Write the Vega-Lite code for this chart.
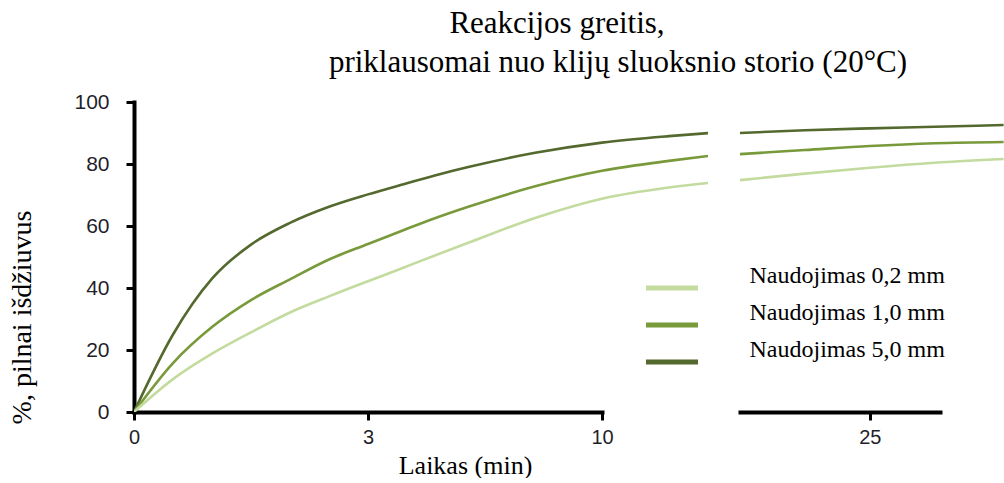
{
  "$schema": "https://vega.github.io/schema/vega-lite/v6.json",
  "padding": {"left": 8, "top": 8, "right": 0, "bottom": 0},
  "background": "#ffffff",
  "bounds": "flush",
  "data": {"values": [
    {"p": "a", "s": "Naudojimas 5,0 mm", "t": 0, "v": 0},
    {"p": "a", "s": "Naudojimas 5,0 mm", "t": 0.5, "v": 25},
    {"p": "a", "s": "Naudojimas 5,0 mm", "t": 1, "v": 43},
    {"p": "a", "s": "Naudojimas 5,0 mm", "t": 1.5, "v": 54},
    {"p": "a", "s": "Naudojimas 5,0 mm", "t": 2, "v": 61},
    {"p": "a", "s": "Naudojimas 5,0 mm", "t": 2.5, "v": 66.2},
    {"p": "a", "s": "Naudojimas 5,0 mm", "t": 3, "v": 70.2},
    {"p": "a", "s": "Naudojimas 5,0 mm", "t": 4, "v": 73.3},
    {"p": "a", "s": "Naudojimas 5,0 mm", "t": 5, "v": 76.3},
    {"p": "a", "s": "Naudojimas 5,0 mm", "t": 6, "v": 79},
    {"p": "a", "s": "Naudojimas 5,0 mm", "t": 8, "v": 83.6},
    {"p": "a", "s": "Naudojimas 5,0 mm", "t": 10, "v": 86.9},
    {"p": "a", "s": "Naudojimas 5,0 mm", "t": 12, "v": 89},
    {"p": "a", "s": "Naudojimas 5,0 mm", "t": 13.2, "v": 90},
    {"p": "a", "s": "Naudojimas 1,0 mm", "t": 0, "v": 0},
    {"p": "a", "s": "Naudojimas 1,0 mm", "t": 0.5, "v": 15.8},
    {"p": "a", "s": "Naudojimas 1,0 mm", "t": 1, "v": 27.4},
    {"p": "a", "s": "Naudojimas 1,0 mm", "t": 1.5, "v": 36.1},
    {"p": "a", "s": "Naudojimas 1,0 mm", "t": 2, "v": 42.8},
    {"p": "a", "s": "Naudojimas 1,0 mm", "t": 2.5, "v": 49.2},
    {"p": "a", "s": "Naudojimas 1,0 mm", "t": 3, "v": 54.2},
    {"p": "a", "s": "Naudojimas 1,0 mm", "t": 4, "v": 58.4},
    {"p": "a", "s": "Naudojimas 1,0 mm", "t": 5, "v": 62.5},
    {"p": "a", "s": "Naudojimas 1,0 mm", "t": 6, "v": 66.2},
    {"p": "a", "s": "Naudojimas 1,0 mm", "t": 8, "v": 72.8},
    {"p": "a", "s": "Naudojimas 1,0 mm", "t": 10, "v": 77.8},
    {"p": "a", "s": "Naudojimas 1,0 mm", "t": 12, "v": 81},
    {"p": "a", "s": "Naudojimas 1,0 mm", "t": 13.2, "v": 82.6},
    {"p": "a", "s": "Naudojimas 0,2 mm", "t": 0, "v": 0},
    {"p": "a", "s": "Naudojimas 0,2 mm", "t": 0.5, "v": 10.6},
    {"p": "a", "s": "Naudojimas 0,2 mm", "t": 1, "v": 18.8},
    {"p": "a", "s": "Naudojimas 0,2 mm", "t": 1.5, "v": 25.7},
    {"p": "a", "s": "Naudojimas 0,2 mm", "t": 2, "v": 32.1},
    {"p": "a", "s": "Naudojimas 0,2 mm", "t": 2.5, "v": 37.3},
    {"p": "a", "s": "Naudojimas 0,2 mm", "t": 3, "v": 42.2},
    {"p": "a", "s": "Naudojimas 0,2 mm", "t": 4, "v": 46.3},
    {"p": "a", "s": "Naudojimas 0,2 mm", "t": 5, "v": 50.5},
    {"p": "a", "s": "Naudojimas 0,2 mm", "t": 6, "v": 54.6},
    {"p": "a", "s": "Naudojimas 0,2 mm", "t": 8, "v": 62.6},
    {"p": "a", "s": "Naudojimas 0,2 mm", "t": 10, "v": 68.8},
    {"p": "a", "s": "Naudojimas 0,2 mm", "t": 12, "v": 72.4},
    {"p": "a", "s": "Naudojimas 0,2 mm", "t": 13.2, "v": 73.9},
    {"p": "b", "s": "Naudojimas 5,0 mm", "t": 15, "v": 90},
    {"p": "b", "s": "Naudojimas 5,0 mm", "t": 20, "v": 90.9},
    {"p": "b", "s": "Naudojimas 5,0 mm", "t": 25, "v": 91.5},
    {"p": "b", "s": "Naudojimas 5,0 mm", "t": 30, "v": 92},
    {"p": "b", "s": "Naudojimas 5,0 mm", "t": 35.3, "v": 92.6},
    {"p": "b", "s": "Naudojimas 1,0 mm", "t": 15, "v": 83.2},
    {"p": "b", "s": "Naudojimas 1,0 mm", "t": 20, "v": 84.5},
    {"p": "b", "s": "Naudojimas 1,0 mm", "t": 25, "v": 85.8},
    {"p": "b", "s": "Naudojimas 1,0 mm", "t": 30, "v": 86.7},
    {"p": "b", "s": "Naudojimas 1,0 mm", "t": 35.3, "v": 87.1},
    {"p": "b", "s": "Naudojimas 0,2 mm", "t": 15, "v": 74.8},
    {"p": "b", "s": "Naudojimas 0,2 mm", "t": 20, "v": 76.9},
    {"p": "b", "s": "Naudojimas 0,2 mm", "t": 25, "v": 78.8},
    {"p": "b", "s": "Naudojimas 0,2 mm", "t": 30, "v": 80.4},
    {"p": "b", "s": "Naudojimas 0,2 mm", "t": 35.3, "v": 81.6}
  ]},
  "title": {
    "text": "Reakcijos greitis,",
    "frame": "group",
    "anchor": "middle",
    "dx": 423,
    "offset": 7,
    "font": "Liberation Serif",
    "fontSize": 31,
    "fontWeight": "normal",
    "color": "#000000"
  },
  "spacing": 32,
  "resolve": {"scale": {"color": "shared"}},
  "hconcat": [
    {
      "width": 574,
      "height": 310,
      "title": {
        "text": "priklausomai nuo klijų sluoksnio storio (20°C)",
        "frame": "group",
        "anchor": "middle",
        "dx": 197,
        "offset": 12,
        "font": "Liberation Serif",
        "fontSize": 31,
        "fontWeight": "normal",
        "color": "#000000"
      },
      "transform": [{"filter": "datum.p == 'a'"}],
      "mark": {"type": "line", "strokeWidth": 2.6, "interpolate": "monotone", "clip": true},
      "encoding": {
        "x": {
          "field": "t", "type": "quantitative",
          "scale": {"domain": [0, 3, 10], "range": [0, 234, 468], "nice": false, "zero": false},
          "axis": {
            "values": [0, 3, 10],
            "title": "Laikas (min)",
            "titleFont": "Liberation Serif", "titleFontSize": 26, "titleFontWeight": "normal", "titleColor": "#000000",
            "titleX": 331, "titleY": 40, "titleBaseline": "top", "titleAlign": "center",
            "labelFont": "Liberation Sans", "labelFontSize": 20, "labelColor": "#1f1f2a", "labelPadding": 7, "labelFlush": false,
            "domainColor": "#000000", "domainWidth": 4, "tickColor": "#000000", "tickWidth": 3, "tickSize": 8,
            "grid": false
          }
        },
        "y": {
          "field": "v", "type": "quantitative",
          "scale": {"domain": [0, 100], "nice": false},
          "axis": {
            "values": [0, 20, 40, 60, 80, 100],
            "title": "%, pilnai išdžiuvus",
            "titleFont": "Liberation Serif", "titleFontSize": 28, "titleFontWeight": "normal", "titleColor": "#000000",
            "titleX": -112, "titleY": 215, "titleAngle": -90, "titleBaseline": "middle", "titleAlign": "center",
            "labelFont": "Liberation Sans", "labelFontSize": 21, "labelColor": "#1f1f2a", "labelPadding": 17, "labelFlush": false,
            "domainColor": "#000000", "domainWidth": 4, "tickColor": "#000000", "tickWidth": 3, "tickSize": 8,
            "grid": false
          }
        },
        "color": {
          "field": "s", "type": "nominal",
          "scale": {"domain": ["Naudojimas 0,2 mm", "Naudojimas 1,0 mm", "Naudojimas 5,0 mm"], "range": ["#c3db9e", "#789a3a", "#53692e"]},
          "legend": {
            "title": null, "orient": "none", "legendX": 512, "legendY": 170.5,
            "symbolType": "M-2,0H2", "symbolSize": 676, "symbolStrokeWidth": 5, "symbolOffset": 10.5,
            "labelFont": "Liberation Serif", "labelFontSize": 24, "labelColor": "#000000", "labelLimit": 400,
            "labelBaseline": "bottom",
            "labelOffset": 62, "rowPadding": 2, "padding": 0
          }
        }
      }
    },
    {
      "width": 200,
      "height": 310,
      "transform": [{"filter": "datum.p == 'b'"}],
      "mark": {"type": "line", "strokeWidth": 2.6, "interpolate": "monotone", "clip": false},
      "encoding": {
        "x": {
          "field": "t", "type": "quantitative",
          "scale": {"domain": [15, 30.4], "nice": false, "zero": false},
          "axis": {
            "values": [25],
            "title": null,
            "labelFont": "Liberation Sans", "labelFontSize": 20, "labelColor": "#1f1f2a", "labelPadding": 7, "labelFlush": false,
            "domainColor": "#000000", "domainWidth": 4, "tickColor": "#000000", "tickWidth": 3, "tickSize": 8,
            "grid": false
          }
        },
        "y": {
          "field": "v", "type": "quantitative",
          "scale": {"domain": [0, 100], "nice": false},
          "axis": null
        },
        "color": {
          "field": "s", "type": "nominal",
          "scale": {"domain": ["Naudojimas 0,2 mm", "Naudojimas 1,0 mm", "Naudojimas 5,0 mm"], "range": ["#c3db9e", "#789a3a", "#53692e"]},
          "legend": {
            "title": null, "orient": "none", "legendX": 512, "legendY": 170.5,
            "symbolType": "M-2,0H2", "symbolSize": 676, "symbolStrokeWidth": 5, "symbolOffset": 10.5,
            "labelFont": "Liberation Serif", "labelFontSize": 24, "labelColor": "#000000", "labelLimit": 400,
            "labelBaseline": "bottom",
            "labelOffset": 62, "rowPadding": 2, "padding": 0
          }
        }
      }
    }
  ],
  "config": {
    "view": {"stroke": null},
    "axis": {"domainCap": "square"}
  }
}
